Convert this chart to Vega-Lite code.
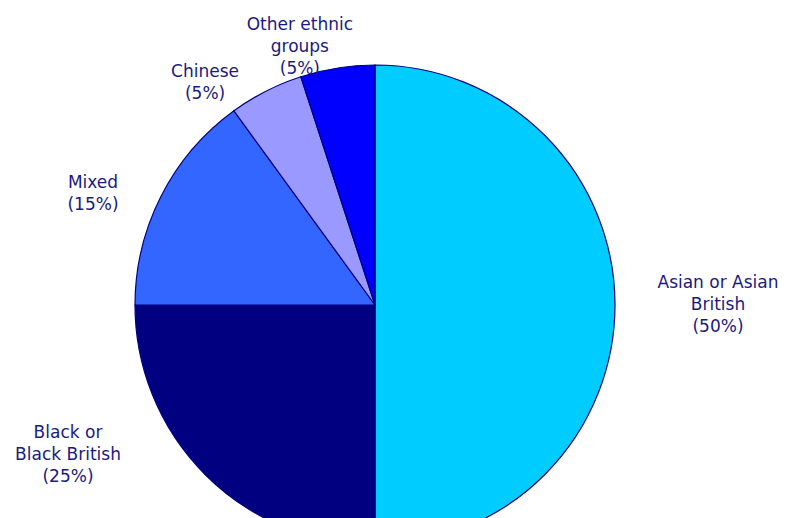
{
  "$schema": "https://vega.github.io/schema/vega-lite/v6.json",
  "width": 750,
  "height": 426,
  "autosize": {"type": "none"},
  "padding": {"left": 0, "top": 92, "right": 45, "bottom": 0},
  "background": "white",
  "config": {"view": {"stroke": null}},
  "data": {
    "values": [
      {"group": "Asian or Asian British", "share": 50, "label": "Asian or Asian\nBritish\n(50%)"},
      {"group": "Black or Black British", "share": 25, "label": "Black or\nBlack British\n(25%)"},
      {"group": "Mixed", "share": 15, "label": "Mixed\n(15%)"},
      {"group": "Chinese", "share": 5, "label": "Chinese\n(5%)"},
      {"group": "Other ethnic groups", "share": 5, "label": "Other ethnic\ngroups\n(5%)"}
    ]
  },
  "transform": [
    {"window": [{"op": "row_number", "as": "idx"}]}
  ],
  "layer": [
    {
      "mark": {"type": "arc", "outerRadius": 240, "stroke": "#000080", "strokeWidth": 1.2},
      "encoding": {
        "theta": {"field": "share", "type": "quantitative", "stack": true},
        "order": {"field": "idx", "type": "quantitative", "sort": "ascending"},
        "color": {
          "field": "group",
          "type": "nominal",
          "legend": null,
          "scale": {
            "domain": ["Asian or Asian British", "Black or Black British", "Mixed", "Chinese", "Other ethnic groups"],
            "range": ["#00CCFF", "#000080", "#3366FF", "#9999FF", "#0000FF"]
          }
        }
      }
    },
    {
      "mark": {"type": "text", "font": "DejaVu Sans", "fontSize": 17, "lineBreak": "\n", "lineHeight": 22, "align": "center", "baseline": "middle", "color": "#1a1a80"},
      "encoding": {
        "theta": {"field": "idx", "type": "quantitative", "stack": null,
          "scale": {"type": "linear", "zero": false, "nice": false, "domain": [1, 2, 3, 4, 5], "range": [1.5068, 4.3174, 5.121, 5.653, 6.021]}},
        "radius": {"field": "idx", "type": "quantitative",
          "scale": {"type": "linear", "zero": false, "nice": false, "domain": [1, 2, 3, 4, 5], "range": [343.7, 332.6, 307.3, 288.4, 289.9]}},
        "text": {"field": "label", "type": "nominal"}
      }
    }
  ],
  "resolve": {"scale": {"theta": "independent", "radius": "independent"}}
}
